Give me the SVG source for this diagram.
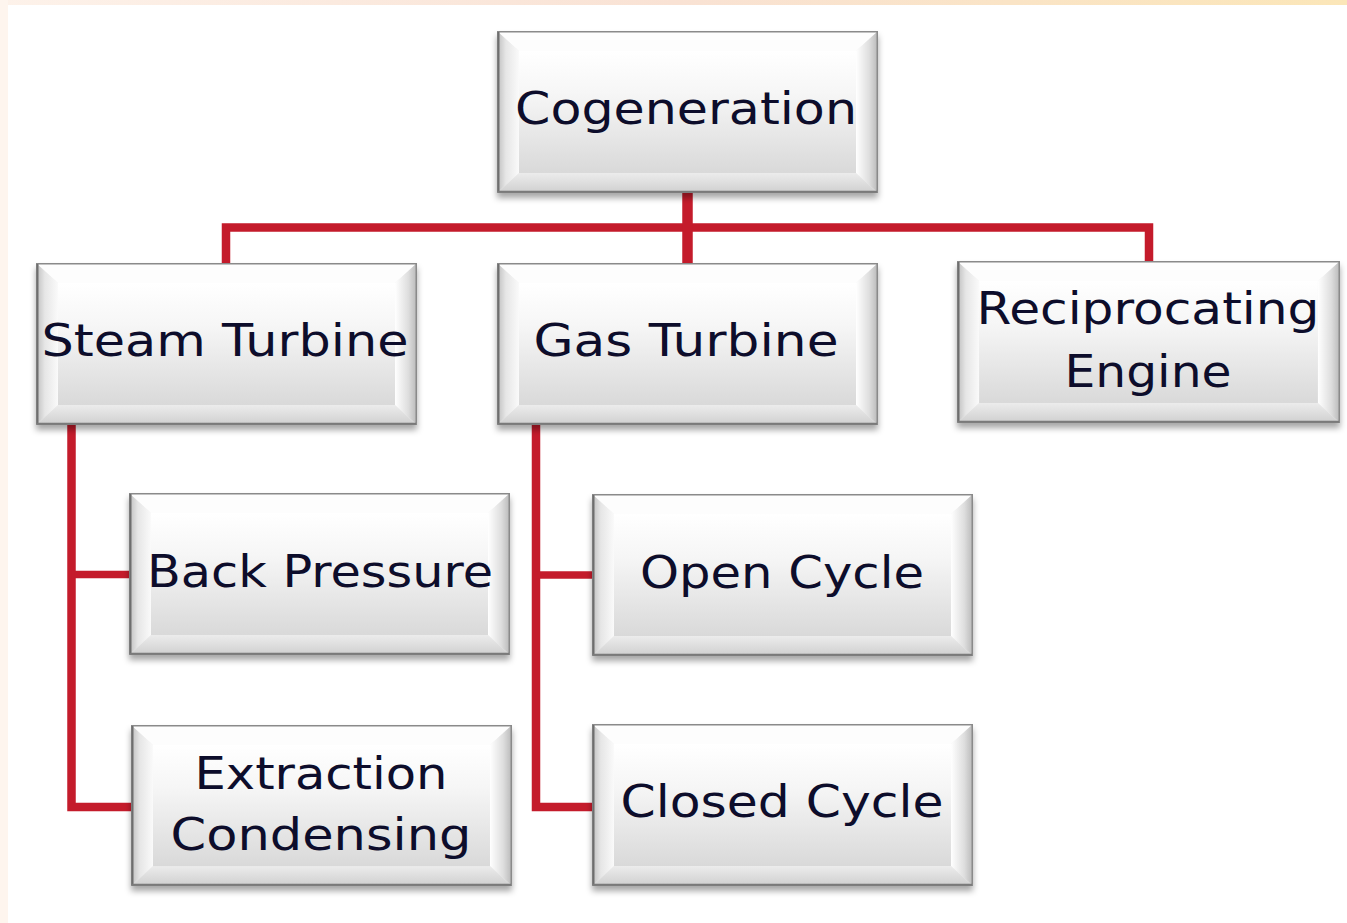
<svg xmlns="http://www.w3.org/2000/svg" xmlns:xlink="http://www.w3.org/1999/xlink" width="1347" height="923" viewBox="0 0 1347 923">
<style>
.lbl{font-family:"DejaVu Sans","Verdana",sans-serif;font-size:44px;fill:#0d0d2b;text-anchor:middle}
.con{fill:none;stroke:#c41b2b;stroke-linejoin:miter}
.btn{filter:url(#sh)}
</style>
<defs>
<linearGradient id="topbar" x1="0" y1="0" x2="1" y2="0">
<stop offset="0" stop-color="#fdf2ea"/><stop offset="0.5" stop-color="#f9e2d4"/><stop offset="1" stop-color="#fbe6b8"/>
</linearGradient>
<linearGradient id="face" x1="0" y1="0" x2="0" y2="1">
<stop offset="0" stop-color="#ffffff"/><stop offset="0.35" stop-color="#f6f6f6"/><stop offset="1" stop-color="#d9d9d9"/>
</linearGradient>
<linearGradient id="lb" x1="0" y1="0" x2="1" y2="0">
<stop offset="0" stop-color="#bdbdbd"/><stop offset="0.4" stop-color="#e6e6e6"/><stop offset="1" stop-color="#fafafa"/>
</linearGradient>
<linearGradient id="rb" x1="0" y1="0" x2="1" y2="0">
<stop offset="0" stop-color="#ffffff"/><stop offset="0.6" stop-color="#dedede"/><stop offset="1" stop-color="#b8b8b8"/>
</linearGradient>
<linearGradient id="bb" x1="0" y1="0" x2="0" y2="1">
<stop offset="0" stop-color="#ececec"/><stop offset="1" stop-color="#cfcfcf"/>
</linearGradient>
<filter id="sh" x="-5%" y="-10%" width="110%" height="125%">
<feDropShadow dx="0" dy="5" stdDeviation="3" flood-color="#000" flood-opacity="0.35"/>
</filter>
<symbol id="bevel" viewBox="0 0 381 162" preserveAspectRatio="none">
<rect x="0" y="0" width="381" height="162" fill="#f2f2f2"/>
<polygon points="0,0 381,0 359,20 22,20" fill="#fdfdfd"/>
<polygon points="0,0 22,20 22,142 0,162" fill="url(#lb)"/>
<polygon points="381,0 381,162 359,142 359,20" fill="url(#rb)"/>
<polygon points="0,162 22,142 359,142 381,162" fill="url(#bb)"/>
<rect x="22" y="20" width="337" height="122" fill="url(#face)"/>
<rect x="0.75" y="0.75" width="379.5" height="160.5" fill="none" stroke="#8a8a8a" stroke-width="1.5"/>
<line x1="1.5" y1="1" x2="1.5" y2="161" stroke="#6e6e6e" stroke-width="2"/>
<line x1="1" y1="160.8" x2="380" y2="160.8" stroke="#7a7a7a" stroke-width="2"/>
</symbol>
</defs>
<rect x="0" y="0" width="1347" height="923" fill="#ffffff"/>
<rect x="0" y="0" width="1347" height="5" fill="url(#topbar)"/>
<rect x="0" y="0" width="8" height="923" fill="#fef5ee"/>
<g id="connectors">
<path class="con" stroke-width="8.5" d="M226,263 V227.5 H1149 V262"/>
<path class="con" stroke-width="10.5" d="M687.5,192 V263"/>
<path class="con" stroke-width="8.5" d="M71.5,425 V807 H131"/>
<path class="con" stroke-width="7.5" d="M71.5,574.5 H129"/>
<path class="con" stroke-width="8.5" d="M536,425 V807 H592"/>
<path class="con" stroke-width="7.5" d="M536,575 H592"/>
</g>
<g id="n-cogeneration">
<use class="btn" xlink:href="#bevel" x="497" y="31" width="381" height="162"/>
<text class="lbl" x="686" y="124" textLength="342" lengthAdjust="spacingAndGlyphs">Cogeneration</text>
</g>
<g id="n-steam">
<use class="btn" xlink:href="#bevel" x="36" y="263" width="381" height="162"/>
<text class="lbl" x="225" y="356" textLength="367" lengthAdjust="spacingAndGlyphs">Steam Turbine</text>
</g>
<g id="n-gas">
<use class="btn" xlink:href="#bevel" x="497" y="263" width="381" height="162"/>
<text class="lbl" x="686" y="356" textLength="305" lengthAdjust="spacingAndGlyphs">Gas Turbine</text>
</g>
<g id="n-recip">
<use class="btn" xlink:href="#bevel" x="957" y="261" width="383" height="162"/>
<text class="lbl" x="1148" y="324" textLength="343" lengthAdjust="spacingAndGlyphs">Reciprocating</text>
<text class="lbl" x="1148" y="387" textLength="167" lengthAdjust="spacingAndGlyphs">Engine</text>
</g>
<g id="n-back">
<use class="btn" xlink:href="#bevel" x="129" y="493" width="381" height="162"/>
<text class="lbl" x="320" y="587" textLength="346" lengthAdjust="spacingAndGlyphs">Back Pressure</text>
</g>
<g id="n-open">
<use class="btn" xlink:href="#bevel" x="592" y="494" width="381" height="162"/>
<text class="lbl" x="782" y="588" textLength="284" lengthAdjust="spacingAndGlyphs">Open Cycle</text>
</g>
<g id="n-extraction">
<use class="btn" xlink:href="#bevel" x="131" y="725" width="381" height="161"/>
<text class="lbl" x="321" y="789" textLength="253" lengthAdjust="spacingAndGlyphs">Extraction</text>
<text class="lbl" x="321" y="850" textLength="301" lengthAdjust="spacingAndGlyphs">Condensing</text>
</g>
<g id="n-closed">
<use class="btn" xlink:href="#bevel" x="592" y="724" width="381" height="162"/>
<text class="lbl" x="782" y="817" textLength="323" lengthAdjust="spacingAndGlyphs">Closed Cycle</text>
</g>
</svg>
